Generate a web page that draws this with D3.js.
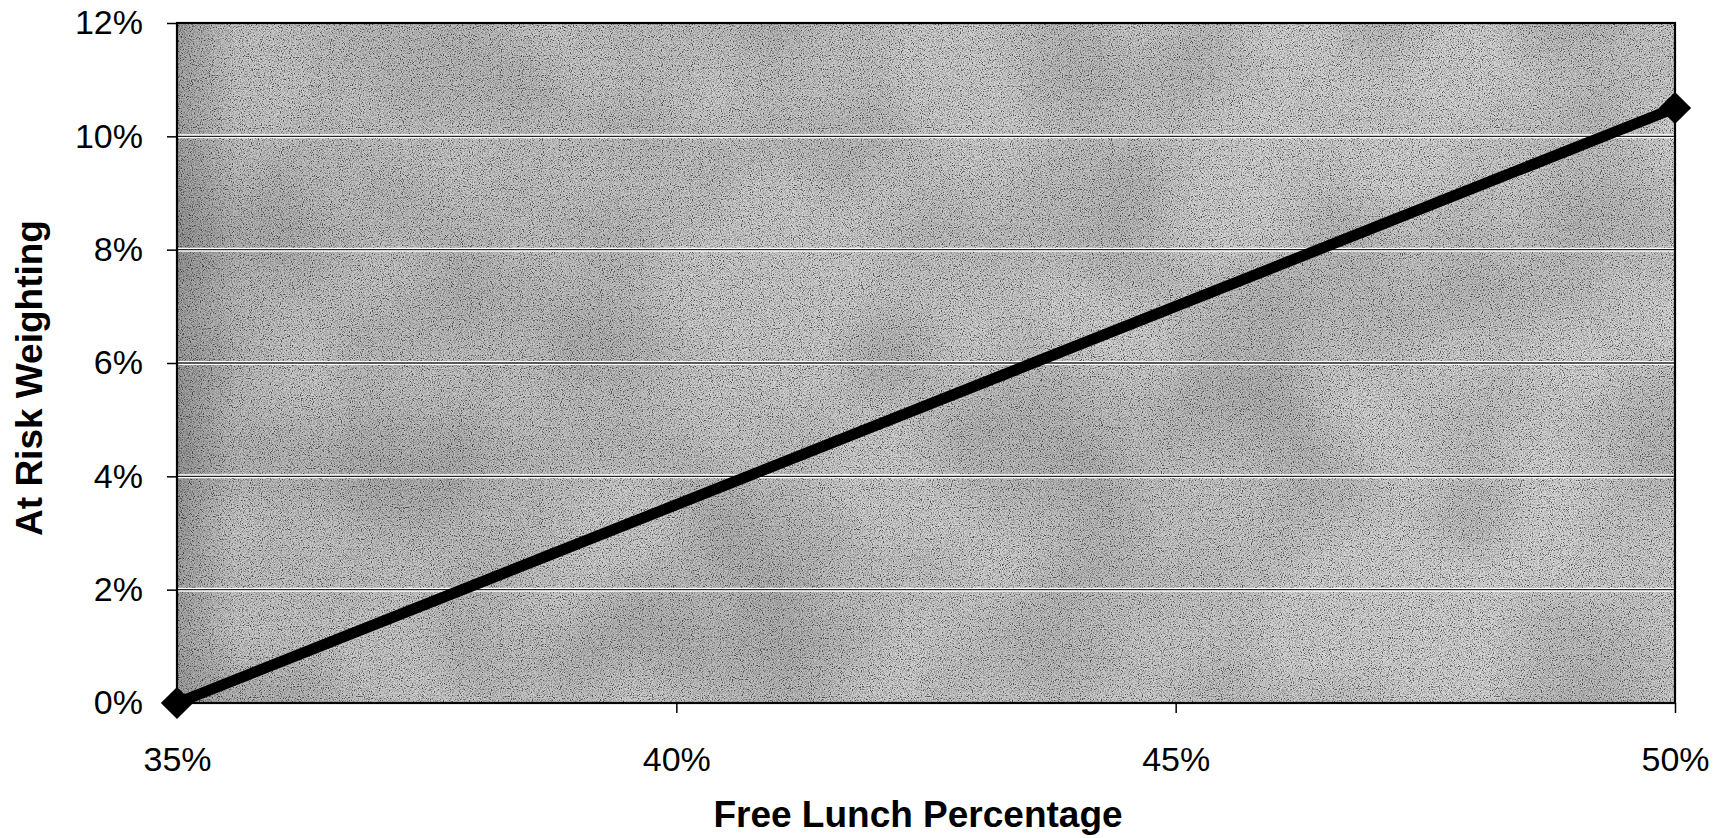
<!DOCTYPE html>
<html>
<head>
<meta charset="utf-8">
<style>
  body { margin: 0; background: #fff; }
  svg { display: block; font-family: "Liberation Sans", Arial, sans-serif; }
</style>
</head>
<body>
<script src="https://d3js.org/d3.v7.min.js"></script>
<script>
// free lunch % vs at risk weighting
const freeLunch = [35, 50];
const atRisk = [0, 10.5];
const xTicks = [35, 40, 45, 50];
const yTicks = [0, 2, 4, 6, 8, 10, 12];

const W = 1725, H = 838;
const m = { top: 23, right: 50, bottom: 135, left: 177 };
const w = W - m.left - m.right;
const h = H - m.top - m.bottom;

const svg = d3.select("body").append("svg")
  .attr("width", W)
  .attr("height", H);

// grainy gray fill like the scanned chart
const defs = svg.append("defs");
const f = defs.append("filter").attr("id", "grain")
  .attr("x", 0).attr("y", 0).attr("width", 1).attr("height", 1);
f.append("feTurbulence").attr("type", "fractalNoise")
  .attr("baseFrequency", 0.9).attr("numOctaves", 3).attr("seed", 4).attr("result", "n");
f.append("feColorMatrix").attr("type", "saturate").attr("values", 0).attr("result", "g");
const ct = f.append("feComponentTransfer").attr("in", "g");
["R", "G", "B"].forEach(c => ct.append("feFunc" + c).attr("type", "linear").attr("slope", 4).attr("intercept", -1.35));
ct.append("feFuncA").attr("type", "linear").attr("slope", 0).attr("intercept", 1);

// slow blotches so the gray isn't flat
const f2 = defs.append("filter").attr("id", "blotch")
  .attr("x", 0).attr("y", 0).attr("width", 1).attr("height", 1);
f2.append("feTurbulence").attr("type", "fractalNoise")
  .attr("baseFrequency", 0.006).attr("numOctaves", 2).attr("seed", 9);
f2.append("feColorMatrix").attr("type", "matrix")
  .attr("values", "0 0 0 0 0  0 0 0 0 0  0 0 0 0 0  1.2 0 0 0 -0.45");

const shade = defs.append("linearGradient").attr("id", "shade");
shade.append("stop").attr("offset", "0").attr("stop-color", "#000").attr("stop-opacity", 0.22);
shade.append("stop").attr("offset", "0.04").attr("stop-color", "#000").attr("stop-opacity", 0.06);
shade.append("stop").attr("offset", "1").attr("stop-color", "#000").attr("stop-opacity", 0);

const g = svg.append("g").attr("transform", `translate(${m.left},${m.top})`);

const x = d3.scaleLinear().domain([35, 50]).range([0, w]);
const y = d3.scaleLinear().domain([0, 12]).range([h, 0]);

g.append("rect").attr("width", w).attr("height", h).attr("fill", "#b4b4b4");
g.append("rect").attr("width", w).attr("height", h).attr("filter", "url(#grain)").attr("opacity", 0.5);
g.append("rect").attr("width", w).attr("height", h).attr("filter", "url(#blotch)").attr("opacity", 0.25);
g.append("rect").attr("width", w).attr("height", h).attr("fill", "url(#shade)");

// gridlines: thin dark line with a light halo
const grid = g.append("g");
grid.selectAll("line.halo").data(yTicks.slice(1, -1)).join("line")
  .attr("class", "halo")
  .attr("x1", 0).attr("x2", w)
  .attr("y1", d => y(d)).attr("y2", d => y(d))
  .attr("stroke", "#fff").attr("stroke-width", 4);
grid.selectAll("line.core").data(yTicks.slice(1, -1)).join("line")
  .attr("class", "core")
  .attr("x1", 0).attr("x2", w)
  .attr("y1", d => y(d)).attr("y2", d => y(d))
  .attr("stroke", "#222").attr("stroke-width", 1.3);

g.append("rect").attr("width", w).attr("height", h)
  .attr("fill", "none").attr("stroke", "#000").attr("stroke-width", 2.2);

const yAxis = g.append("g")
  .call(d3.axisLeft(y).tickValues(yTicks).tickSize(10).tickPadding(24).tickFormat(d => d + "%"));
const xAxis = g.append("g").attr("transform", `translate(0,${h})`)
  .call(d3.axisBottom(x).tickValues(xTicks).tickSize(10).tickPadding(34).tickFormat(d => d + "%"));
[yAxis, xAxis].forEach(a => {
  a.select(".domain").remove();
  a.selectAll(".tick line").attr("stroke", "#000").attr("stroke-width", 1.5);
  a.selectAll("text").attr("fill", "#000").style("font-size", "34px");
});

const line = d3.line().x(d => x(d[0])).y(d => y(d[1]));
const pts = freeLunch.map((v, i) => [v, atRisk[i]]);

g.append("path").datum(pts)
  .attr("d", line)
  .attr("fill", "none").attr("stroke", "#000").attr("stroke-width", 11);

g.selectAll("path.mark").data(pts).join("path")
  .attr("class", "mark")
  .attr("d", d3.symbol(d3.symbolSquare, 520))
  .attr("transform", d => `translate(${x(d[0])},${y(d[1])}) rotate(45)`)
  .attr("fill", "#000");

svg.append("text")
  .attr("x", m.left + w / 2 - 8).attr("y", 827)
  .attr("text-anchor", "middle")
  .style("font-size", "37px").style("font-weight", "bold")
  .text("Free Lunch Percentage");

svg.append("text")
  .attr("transform", "translate(42,378) rotate(-90)")
  .attr("text-anchor", "middle")
  .style("font-size", "37px").style("font-weight", "bold")
  .text("At Risk Weighting");
</script>
</body>
</html>
